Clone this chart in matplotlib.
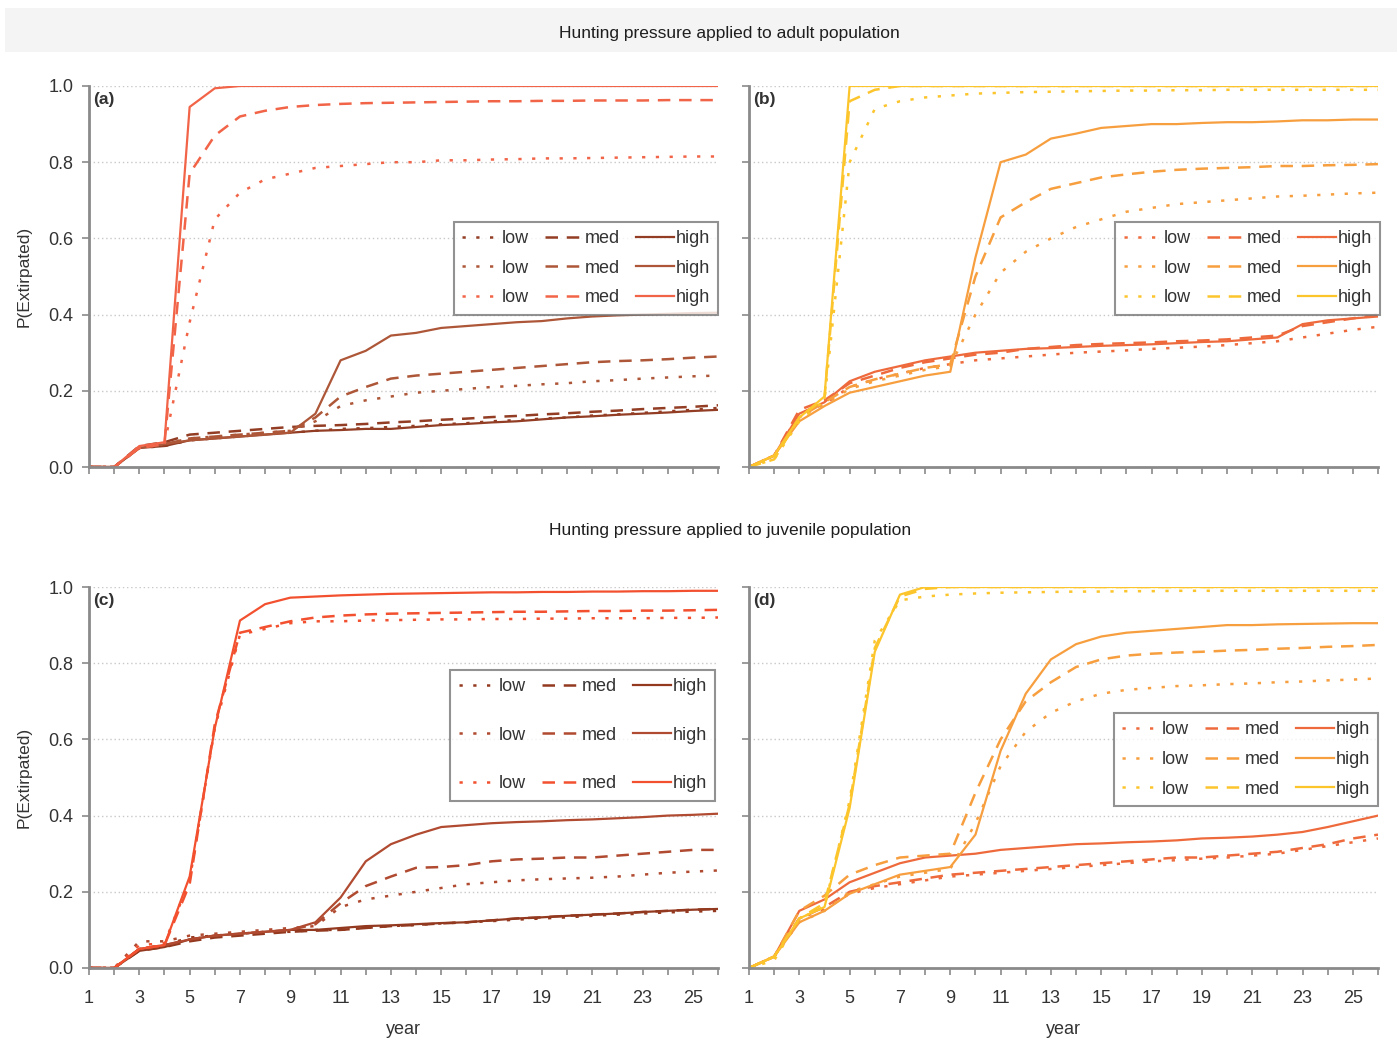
import matplotlib.pyplot as plt
from matplotlib.patches import Rectangle

plt.rcParams['font.family'] = ['Liberation Sans', 'DejaVu Sans']

years = list(range(1, 27))
odd_years = list(range(1, 27, 2))
y_ticks = [0.0, 0.2, 0.4, 0.6, 0.8, 1.0]

# (a) adults, first colour set
a1_low = [0, 0, 0.05, 0.055, 0.07, 0.075, 0.08, 0.085, 0.09, 0.095, 0.10, 0.102, 0.105, 0.108, 0.112, 0.115, 0.12, 0.123, 0.127, 0.13, 0.135, 0.138, 0.142, 0.146, 0.15, 0.155]
a1_med = [0, 0, 0.055, 0.065, 0.085, 0.09, 0.095, 0.10, 0.105, 0.108, 0.11, 0.113, 0.117, 0.12, 0.124, 0.127, 0.131, 0.134, 0.138, 0.141, 0.145, 0.148, 0.152, 0.155, 0.158, 0.162]
a1_high = [0, 0, 0.05, 0.055, 0.07, 0.075, 0.08, 0.085, 0.09, 0.095, 0.097, 0.10, 0.10, 0.105, 0.11, 0.113, 0.117, 0.12, 0.125, 0.13, 0.133, 0.137, 0.14, 0.143, 0.147, 0.15]
a2_low = [0, 0, 0.05, 0.06, 0.075, 0.08, 0.085, 0.09, 0.095, 0.12, 0.16, 0.175, 0.185, 0.195, 0.20, 0.205, 0.21, 0.213, 0.217, 0.22, 0.225, 0.228, 0.232, 0.235, 0.238, 0.24]
a2_med = [0, 0, 0.05, 0.06, 0.075, 0.08, 0.085, 0.09, 0.095, 0.13, 0.185, 0.21, 0.232, 0.24, 0.245, 0.25, 0.255, 0.26, 0.265, 0.27, 0.275, 0.278, 0.28, 0.283, 0.287, 0.29]
a2_high = [0, 0, 0.05, 0.06, 0.07, 0.075, 0.08, 0.085, 0.09, 0.14, 0.28, 0.305, 0.345, 0.352, 0.365, 0.37, 0.375, 0.38, 0.383, 0.39, 0.395, 0.398, 0.40, 0.402, 0.404, 0.405]
a3_low = [0, 0, 0.05, 0.06, 0.38, 0.65, 0.72, 0.755, 0.77, 0.785, 0.79, 0.795, 0.80, 0.80, 0.805, 0.805, 0.807, 0.808, 0.81, 0.81, 0.811, 0.812, 0.813, 0.814, 0.815, 0.815]
a3_med = [0, 0, 0.05, 0.06, 0.77, 0.87, 0.92, 0.935, 0.945, 0.95, 0.953, 0.955, 0.956, 0.957, 0.958, 0.959, 0.96, 0.96, 0.961, 0.961, 0.962, 0.962, 0.962, 0.963, 0.963, 0.963]
a3_high = [0, 0, 0.055, 0.065, 0.945, 0.994] + [1.0] * 20

# (b) adults, second colour set
b1_low = [0, 0.03, 0.14, 0.165, 0.21, 0.23, 0.245, 0.26, 0.27, 0.28, 0.285, 0.29, 0.295, 0.30, 0.303, 0.306, 0.31, 0.313, 0.316, 0.32, 0.325, 0.33, 0.34, 0.35, 0.36, 0.368]
b1_med = [0, 0.03, 0.15, 0.175, 0.22, 0.24, 0.26, 0.275, 0.285, 0.295, 0.30, 0.31, 0.315, 0.32, 0.323, 0.325, 0.327, 0.33, 0.332, 0.335, 0.34, 0.345, 0.37, 0.38, 0.39, 0.40]
b1_high = [0, 0.03, 0.14, 0.17, 0.225, 0.25, 0.265, 0.28, 0.29, 0.30, 0.305, 0.31, 0.312, 0.315, 0.318, 0.32, 0.322, 0.325, 0.328, 0.33, 0.335, 0.34, 0.375, 0.385, 0.39, 0.395]
b2_low = [0, 0.03, 0.13, 0.165, 0.205, 0.225, 0.24, 0.255, 0.265, 0.40, 0.51, 0.565, 0.60, 0.63, 0.65, 0.67, 0.68, 0.69, 0.695, 0.70, 0.705, 0.71, 0.712, 0.715, 0.718, 0.72]
b2_med = [0, 0.03, 0.13, 0.17, 0.21, 0.23, 0.245, 0.26, 0.27, 0.50, 0.655, 0.695, 0.73, 0.745, 0.76, 0.768, 0.775, 0.78, 0.783, 0.785, 0.787, 0.79, 0.79, 0.792, 0.793, 0.795]
b2_high = [0, 0.03, 0.12, 0.16, 0.195, 0.21, 0.225, 0.24, 0.25, 0.55, 0.80, 0.82, 0.862, 0.875, 0.89, 0.895, 0.90, 0.90, 0.903, 0.905, 0.905, 0.907, 0.91, 0.91, 0.912, 0.912]
b3_low = [0, 0.02, 0.12, 0.175, 0.80, 0.94, 0.96, 0.97, 0.975, 0.98, 0.982, 0.984, 0.985, 0.986, 0.987, 0.988, 0.988, 0.989, 0.989, 0.99, 0.99, 0.99, 0.99, 0.99, 0.99, 0.99]
b3_med = [0, 0.02, 0.13, 0.18, 0.96, 0.99] + [1.0] * 20
b3_high = [0, 0.03, 0.13, 0.185] + [1.0] * 22

# (c) juveniles, first colour set
c1_low = [0, 0, 0.05, 0.06, 0.08, 0.085, 0.09, 0.095, 0.095, 0.10, 0.10, 0.105, 0.11, 0.113, 0.117, 0.12, 0.123, 0.127, 0.13, 0.133, 0.137, 0.14, 0.143, 0.146, 0.148, 0.15]
c1_med = [0, 0, 0.045, 0.055, 0.07, 0.08, 0.085, 0.09, 0.095, 0.098, 0.10, 0.105, 0.11, 0.113, 0.117, 0.12, 0.125, 0.13, 0.133, 0.137, 0.14, 0.143, 0.147, 0.15, 0.153, 0.155]
c1_high = [0, 0, 0.045, 0.055, 0.075, 0.085, 0.09, 0.095, 0.10, 0.10, 0.105, 0.11, 0.112, 0.115, 0.118, 0.12, 0.125, 0.13, 0.133, 0.137, 0.14, 0.143, 0.147, 0.15, 0.153, 0.155]
c2_low = [0, 0, 0.07, 0.07, 0.085, 0.09, 0.095, 0.10, 0.105, 0.11, 0.16, 0.18, 0.19, 0.20, 0.21, 0.22, 0.225, 0.23, 0.233, 0.235, 0.237, 0.24, 0.245, 0.25, 0.253, 0.256]
c2_med = [0, 0, 0.05, 0.06, 0.075, 0.085, 0.09, 0.095, 0.10, 0.115, 0.17, 0.215, 0.24, 0.263, 0.265, 0.27, 0.28, 0.285, 0.287, 0.29, 0.29, 0.295, 0.30, 0.305, 0.31, 0.31]
c2_high = [0, 0, 0.05, 0.06, 0.075, 0.085, 0.09, 0.095, 0.10, 0.12, 0.185, 0.28, 0.325, 0.35, 0.37, 0.375, 0.38, 0.383, 0.385, 0.388, 0.39, 0.393, 0.396, 0.40, 0.402, 0.405]
c3_low = [0, 0, 0.06, 0.065, 0.23, 0.63, 0.875, 0.89, 0.905, 0.91, 0.91, 0.912, 0.913, 0.914, 0.915, 0.915, 0.916, 0.916, 0.917, 0.917, 0.918, 0.918, 0.918, 0.919, 0.919, 0.92]
c3_med = [0, 0, 0.05, 0.06, 0.22, 0.64, 0.88, 0.895, 0.91, 0.92, 0.925, 0.928, 0.93, 0.931, 0.932, 0.933, 0.934, 0.935, 0.935, 0.936, 0.937, 0.937, 0.938, 0.938, 0.939, 0.94]
c3_high = [0, 0, 0.05, 0.06, 0.24, 0.63, 0.912, 0.955, 0.972, 0.975, 0.978, 0.98, 0.982, 0.983, 0.984, 0.985, 0.986, 0.986, 0.987, 0.987, 0.988, 0.988, 0.989, 0.989, 0.99, 0.99]

# (d) juveniles, second colour set
d1_low = [0, 0.03, 0.13, 0.155, 0.195, 0.21, 0.22, 0.23, 0.24, 0.245, 0.25, 0.255, 0.26, 0.265, 0.27, 0.275, 0.28, 0.283, 0.287, 0.29, 0.295, 0.30, 0.31, 0.32, 0.33, 0.34]
d1_med = [0, 0.03, 0.13, 0.16, 0.20, 0.215, 0.225, 0.235, 0.245, 0.25, 0.255, 0.26, 0.265, 0.27, 0.275, 0.28, 0.285, 0.29, 0.29, 0.295, 0.30, 0.305, 0.315, 0.325, 0.34, 0.35]
d1_high = [0, 0.03, 0.15, 0.18, 0.225, 0.25, 0.275, 0.29, 0.295, 0.30, 0.31, 0.315, 0.32, 0.325, 0.327, 0.33, 0.332, 0.335, 0.34, 0.342, 0.345, 0.35, 0.357, 0.37, 0.385, 0.40]
d2_low = [0, 0.03, 0.12, 0.15, 0.20, 0.22, 0.24, 0.25, 0.26, 0.38, 0.53, 0.62, 0.67, 0.70, 0.72, 0.73, 0.735, 0.74, 0.742, 0.745, 0.747, 0.75, 0.752, 0.755, 0.757, 0.76]
d2_med = [0, 0.03, 0.15, 0.19, 0.245, 0.27, 0.29, 0.295, 0.30, 0.46, 0.60, 0.70, 0.75, 0.79, 0.81, 0.82, 0.825, 0.828, 0.83, 0.833, 0.835, 0.838, 0.84, 0.843, 0.845, 0.848]
d2_high = [0, 0.03, 0.12, 0.15, 0.195, 0.22, 0.245, 0.255, 0.265, 0.35, 0.57, 0.72, 0.81, 0.85, 0.87, 0.88, 0.885, 0.89, 0.895, 0.90, 0.90, 0.902, 0.903, 0.904, 0.905, 0.905]
d3_low = [0, 0.02, 0.13, 0.16, 0.44, 0.86, 0.965, 0.975, 0.98, 0.983, 0.985, 0.986, 0.987, 0.988, 0.988, 0.989, 0.989] + [0.99] * 9
d3_med = [0, 0.03, 0.13, 0.17, 0.43, 0.84, 0.975, 0.995] + [1.0] * 18
d3_high = [0, 0.03, 0.13, 0.16, 0.42, 0.83, 0.98] + [1.0] * 19

colors_a = ['#923d24', '#ad5638', '#f26448']
colors_c = ['#93391f', '#b04a30', '#f2502f']
colors_b = ['#ee6a3c', '#f79e3e', '#fcc52c']

styles = {'low': (0, (1.3, 4.2)), 'med': (0, (5, 3.5)), 'high': '-'}

fig = plt.figure(figsize=(13.98, 10.43), dpi=100)
fig.patches.append(Rectangle((0.0036, 0.950), 0.996, 0.042, transform=fig.transFigure,
                             facecolor='#f4f4f4', edgecolor='none', zorder=0))
fig.text(0.522, 0.968, 'Hunting pressure applied to adult population', ha='center', va='center',
         fontsize=12.5, color='#1e1e1e')
fig.text(0.522, 0.491, 'Hunting pressure applied to juvenile population', ha='center', va='center',
         fontsize=12.5, color='#1e1e1e')

W, H = 1398, 1043
panels = [
    ('(a)', 89, 467, colors_a, [[a1_low, a1_med, a1_high], [a2_low, a2_med, a2_high], [a3_low, a3_med, a3_high]], (1.0, 0.643), 0.7),
    ('(b)', 749, 467, colors_b, [[b1_low, b1_med, b1_high], [b2_low, b2_med, b2_high], [b3_low, b3_med, b3_high]], (1.003, 0.643), 0.7),
    ('(c)', 89, 968, colors_c, [[c1_low, c1_med, c1_high], [c2_low, c2_med, c2_high], [c3_low, c3_med, c3_high]], (0.995, 0.782), 1.75),
    ('(d)', 749, 968, colors_b, [[d1_low, d1_med, d1_high], [d2_low, d2_med, d2_high], [d3_low, d3_med, d3_high]], (1.0, 0.669), 0.7),
]

for idx, (tag, left, bottom, cols, series, anchor, spacing) in enumerate(panels):
    ax = fig.add_axes([left / W, (H - bottom) / H, 629 / W, 381 / H])
    lines = {'low': [], 'med': [], 'high': []}
    for row, (color, rowdata) in enumerate(zip(cols, series)):
        for name, vals in zip(['low', 'med', 'high'], rowdata):
            lw = 1.8 if name != 'high' else 1.6
            ln, = ax.plot(years, vals, color=color, linestyle=styles[name], lw=lw, label=name)
            lines[name].append(ln)
    handles = lines['low'] + lines['med'] + lines['high']
    leg = ax.legend(handles, [h.get_label() for h in handles], ncol=3, loc='upper right',
                    bbox_to_anchor=anchor, fontsize=13, frameon=True, fancybox=False,
                    handlelength=2.1, handletextpad=0.1, columnspacing=0.9,
                    labelspacing=spacing, borderpad=0.45, borderaxespad=0)
    leg.get_frame().set_edgecolor('#777777')
    leg.get_frame().set_linewidth(1.5)
    leg.set_zorder(5)
    for t in leg.get_texts():
        t.set_color('#333333')

    ax.set_xlim(1, 26)
    ax.set_ylim(0, 1.0)
    ax.set_xticks(years, minor=False)
    ax.set_yticks(y_ticks)
    ax.yaxis.grid(True, linestyle=(0, (1, 2)), color='#c8c8c8', lw=1)
    ax.set_axisbelow(True)
    for s in ['top', 'right']:
        ax.spines[s].set_visible(False)
    for s in ['left', 'bottom']:
        ax.spines[s].set_color('#8a8a8a')
        ax.spines[s].set_linewidth(2)
    ax.tick_params(direction='out', length=5, width=1.2, color='#8a8a8a', labelsize=13,
                   labelcolor='#333333', pad=6)
    ax.tick_params(axis='x', pad=11)
    if idx >= 2:
        ax.set_xticklabels([str(y) if y in odd_years else '' for y in years])
        ax.set_xlabel('year', fontsize=13, color='#333333', labelpad=10)
    else:
        ax.set_xticklabels([])
    if idx % 2 == 0:
        ax.set_yticklabels(['%.1f' % v for v in y_ticks])
        ax.set_ylabel('P(Extirpated)', fontsize=12.5, color='#333333', labelpad=12)
    else:
        ax.set_yticklabels([])
    ax.text(0.006, 0.985, tag, transform=ax.transAxes, fontsize=12.5, fontweight='bold',
            color='#333333', va='top', ha='left')

fig.savefig('out.png', dpi=100)
